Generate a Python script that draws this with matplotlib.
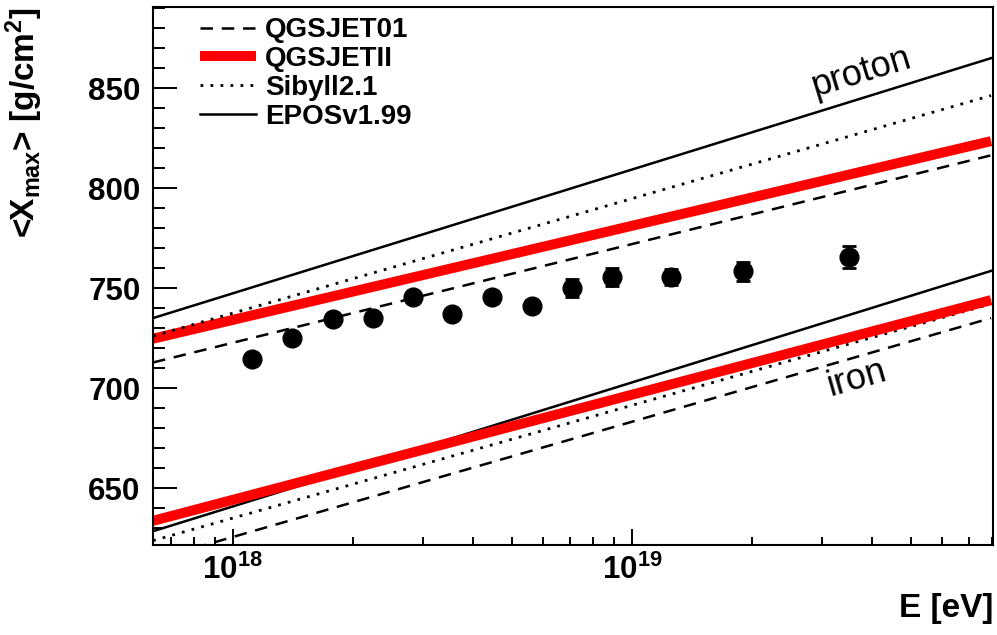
import matplotlib.pyplot as plt
from matplotlib.ticker import MultipleLocator, NullFormatter, LogLocator

plt.rcParams['font.family'] = 'Liberation Sans'
plt.rcParams['mathtext.fontset'] = 'custom'
plt.rcParams['mathtext.rm'] = 'Liberation Sans:bold'
plt.rcParams['mathtext.it'] = 'Liberation Sans:bold'
plt.rcParams['mathtext.bf'] = 'Liberation Sans:bold'

# measured <Xmax> points
energy = [1.12e18, 1.41e18, 1.78e18, 2.24e18, 2.82e18, 3.55e18, 4.47e18,
          5.62e18, 7.08e18, 8.91e18, 1.25e19, 1.90e19, 3.50e19]
xmax_mean = [714.3, 724.9, 734.3, 735.1, 745.5, 737.0, 745.5,
             741.0, 750.0, 755.5, 755.5, 758.5, 765.6]
xmax_err = [2.0, 2.0, 2.0, 2.0, 2.2, 2.5, 2.8, 3.2, 4.7, 4.7, 4.2, 4.8, 5.3]

# model predictions (straight lines in log E), values at the two ends
model_energy = [10**17.8, 10**19.9]
qgsjet01_p = [712.8, 816.4]
qgsjetii_p = [724.7, 823.5]
sibyll_p = [726.0, 846.3]
epos_p = [735.0, 865.0]
qgsjet01_fe = [614.0, 735.0]
qgsjetii_fe = [633.6, 744.0]
sibyll_fe = [623.7, 742.1]
epos_fe = [628.4, 758.6]

model_names = ['QGSJET01', 'QGSJETII', 'Sibyll2.1', 'EPOSv1.99']

fig = plt.figure(figsize=(9.97, 6.35), dpi=100)
ax = fig.add_axes([0.1535, 0.1417, 0.8425, 0.847])

dash = dict(color='black', lw=1.8, dashes=(5, 3.5))
dot = dict(color='black', lw=2.0, dashes=(1, 2.6))
red = dict(color='#ff0000', lw=7.2, solid_capstyle='butt')
solid = dict(color='black', lw=1.8)

h1, = ax.plot(model_energy, qgsjet01_p, **dash)
h2, = ax.plot(model_energy, qgsjetii_p, **red)
h3, = ax.plot(model_energy, sibyll_p, **dot)
h4, = ax.plot(model_energy, epos_p, **solid)
ax.plot(model_energy, qgsjet01_fe, **dash)
ax.plot(model_energy, sibyll_fe, **dot)
ax.plot(model_energy, epos_fe, **solid)
ax.plot(model_energy, qgsjetii_fe, **red)

ax.errorbar(energy, xmax_mean, yerr=xmax_err, fmt='o', color='black',
            ms=13.5, elinewidth=1.5, capsize=5, capthick=2, zorder=5)

ax.set_xscale('log')
ax.set_xlim(10**17.8, 10**19.905)
ax.set_ylim(621.5, 890.5)

ax.text(3.77e19, 858, 'proton', fontsize=26, rotation=17,
        ha='center', va='center')
ax.text(3.66e19, 705, 'iron', fontsize=26, rotation=16,
        ha='center', va='center')

ax.legend([h1, h2, h3, h4], model_names, loc='upper left',
          bbox_to_anchor=(0.056, 0.981), frameon=False, borderpad=0,
          borderaxespad=0, handlelength=2.0, handletextpad=0.35,
          labelspacing=0.1, prop={'size': 20, 'weight': 'bold'})

# ROOT-like ticks
ax.set_xticks([1e18, 1e19], labels=['10$^{18}$', '10$^{19}$'],
              fontsize=22.5, fontweight='bold')
ax.xaxis.set_minor_locator(LogLocator(base=10, subs=range(2, 10)))
ax.xaxis.set_minor_formatter(NullFormatter())
ax.set_yticks([650, 700, 750, 800, 850])
ax.set_yticklabels(['650', '700', '750', '800', '850'],
                   fontsize=22.5, fontweight='bold')
ax.yaxis.set_minor_locator(MultipleLocator(10))

ax.tick_params(axis='x', which='major', direction='in', length=11.5,
               width=1.4, pad=7, top=False)
ax.tick_params(axis='x', which='minor', direction='in', length=5.8,
               width=1.4, top=False)
ax.tick_params(axis='y', which='major', direction='in', length=17.3,
               width=1.4, pad=9, right=False)
ax.tick_params(axis='y', which='minor', direction='in', length=8.6,
               width=1.4, right=False)
for s in ax.spines.values():
    s.set_linewidth(1.5)

ax.set_xlabel('E [eV]', fontsize=24, fontweight='bold', loc='right')
ax.xaxis.set_label_coords(1.0, -0.09)
ax.set_ylabel('<X$_{max}$> [g/cm$^{2}$]', fontsize=24, fontweight='bold',
              loc='top')
ax.yaxis.set_label_coords(-0.129, 1.0)

fig.savefig('out.png', dpi=100)
